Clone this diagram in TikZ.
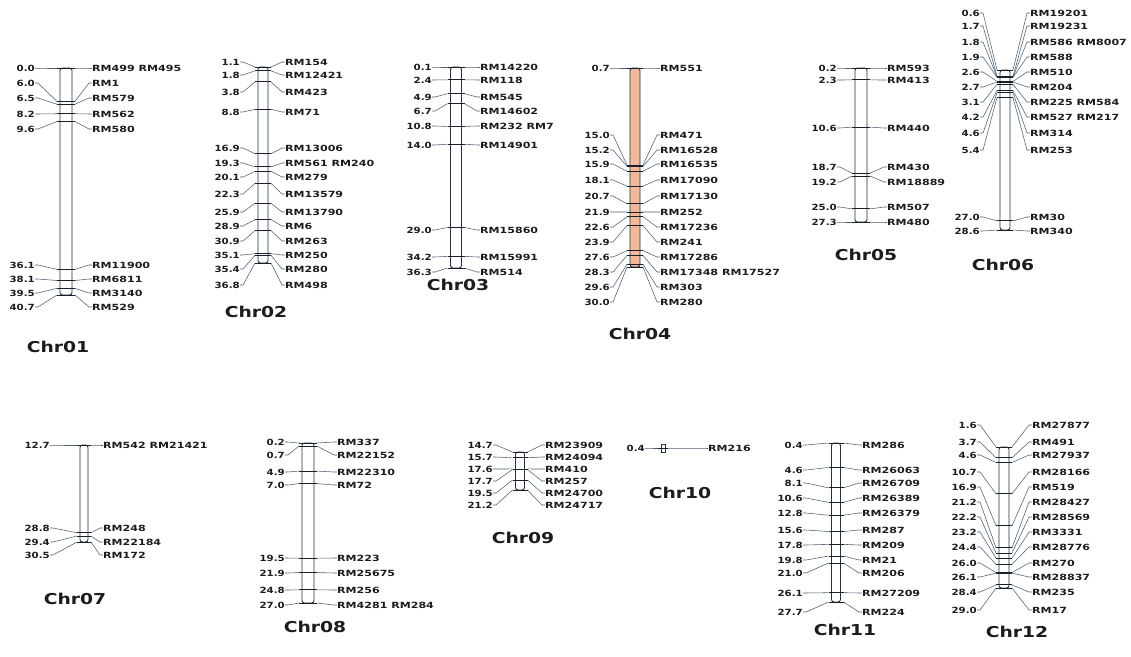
\documentclass[tikz,border=0pt]{standalone}
\usepackage{fontspec}
\setmainfont{DejaVu Sans}
\newfontfamily\numfont[FakeStretch=1.2]{DejaVu Sans Bold}
\newfontfamily\nmfont[FakeStretch=1.3]{DejaVu Sans Bold}
\newfontfamily\ttlfont[FakeStretch=1.25]{DejaVu Sans Bold}
\usetikzlibrary{calc}

\definecolor{barline}{HTML}{26323F}
\definecolor{leadc}{HTML}{4D6075}
\definecolor{tickc}{HTML}{1A2029}
\definecolor{txt}{HTML}{1C1C1C}
\definecolor{peach}{HTML}{F2B89B}

\tikzset{
  bar/.style={draw=barline, line width=0.9pt, rounded corners=2.5pt},
  lead/.style={draw=leadc, line width=0.55pt},
  tick/.style={draw=tickc, line width=0.9pt},
  num/.style={font=\numfont\fontsize{8.5}{9}\selectfont, text=txt, inner sep=0pt},
  nm/.style={font=\nmfont\fontsize{8.5}{9}\selectfont, text=txt, inner sep=0pt},
  ttl/.style={font=\ttlfont\fontsize{15}{16}\selectfont, text=txt, inner sep=0pt}
}

% chromosome settings: centre x, bar width, top y, top cM, bottom y, bottom cM, left gap, right gap
\newcommand\setchr[8]{\def\chX{#1}\def\chW{#2}\def\chYa{#3}\def\chCa{#4}%
  \def\chYb{#5}\def\chCb{#6}\def\chLg{#7}\def\chRg{#8}}
\newcommand\chrbar[1]{\draw[bar,fill=#1] (\chX-\chW/2,\chYa) rectangle (\chX+\chW/2,\chYb);}
\newcounter{mkc}
% marker: position (cM), label row y, marker name(s)
\newcommand\mk[3]{%
  \stepcounter{mkc}%
  \pgfmathsetmacro\chTy{\chYa+(#1-\chCa)*(\chYb-\chYa)/(\chCb-\chCa)}%
  \node[num,anchor=east] (L\themkc) at (\chX-\chLg,#2) {#1};
  \node[nm,anchor=west] (R\themkc) at (\chX+\chRg,#2) {#3};
  \coordinate (TL\themkc) at (\chX-\chW/2-3,\chTy);
  \coordinate (TR\themkc) at (\chX+\chW/2+3,\chTy);
  \draw[lead] (L\themkc.east) -- ++(3,0) -- (TL\themkc);
  \draw[lead] (TR\themkc) -- ($(R\themkc.west)+(-3,0)$) -- (R\themkc.west);
  \draw[tick] (TL\themkc) -- (TR\themkc);
}

\begin{document}
\begin{tikzpicture}[x=1pt,y=-1pt]
\fill[white] (0,0) rectangle (1131,656);
\useasboundingbox (0,0) rectangle (1131,656);

% Chr01
\setchr{66}{12}{68}{0.0}{295}{40.7}{31}{26}
\chrbar{white}
\mk{0.0}{68}{RM499 RM495}
\mk{6.0}{83}{RM1}
\mk{6.5}{98}{RM579}
\mk{8.2}{114}{RM562}
\mk{9.6}{129}{RM580}
\mk{36.1}{265}{RM11900}
\mk{38.1}{279}{RM6811}
\mk{39.5}{293}{RM3140}
\mk{40.7}{307}{RM529}
\node[ttl] (t1) at (58,347) {Chr01};

% Chr02
\setchr{263}{10}{67}{1.1}{263}{36.8}{23}{22}
\chrbar{white}
\mk{1.1}{62}{RM154}
\mk{1.8}{75}{RM12421}
\mk{3.8}{92}{RM423}
\mk{8.8}{112}{RM71}
\mk{16.9}{148}{RM13006}
\mk{19.3}{163}{RM561 RM240}
\mk{20.1}{177}{RM279}
\mk{22.3}{194}{RM13579}
\mk{25.9}{212}{RM13790}
\mk{28.9}{226}{RM6}
\mk{30.9}{241}{RM263}
\mk{35.1}{255}{RM250}
\mk{35.4}{269}{RM280}
\mk{36.8}{285}{RM498}
\node[ttl] (t2) at (256,312) {Chr02};

% Chr03
\setchr{456}{11}{67}{0.1}{268}{36.3}{24}{24}
\chrbar{white}
\mk{0.1}{67}{RM14220}
\mk{2.4}{80}{RM118}
\mk{4.9}{97}{RM545}
\mk{6.7}{111}{RM14602}
\mk{10.8}{126}{RM232 RM7}
\mk{14.0}{145}{RM14901}
\mk{29.0}{230}{RM15860}
\mk{34.2}{257}{RM15991}
\mk{36.3}{272}{RM514}
\node[ttl] (t3) at (458,285) {Chr03};

% Chr04
\setchr{635}{10}{68}{0.7}{267}{30.0}{25}{25}
\chrbar{peach}
\mk{0.7}{68}{RM551}
\mk{15.0}{135}{RM471}
\mk{15.2}{150}{RM16528}
\mk{15.9}{164}{RM16535}
\mk{18.1}{180}{RM17090}
\mk{20.7}{196}{RM17130}
\mk{21.9}{212}{RM252}
\mk{22.6}{227}{RM17236}
\mk{23.9}{242}{RM241}
\mk{27.6}{257}{RM17286}
\mk{28.3}{272}{RM17348 RM17527}
\mk{29.6}{287}{RM303}
\mk{30.0}{302}{RM280}
\node[ttl] (t4) at (640,334) {Chr04};

% Chr05
\setchr{861}{12}{68}{0.2}{222}{27.3}{24}{26}
\chrbar{white}
\mk{0.2}{68}{RM593}
\mk{2.3}{80}{RM413}
\mk{10.6}{128}{RM440}
\mk{18.7}{167}{RM430}
\mk{19.2}{182}{RM18889}
\mk{25.0}{207}{RM507}
\mk{27.3}{222}{RM480}
\node[ttl] (t5) at (866,255) {Chr05};

% Chr06
\setchr{1005}{10}{70}{0.6}{230}{28.6}{25}{25}
\chrbar{white}
\mk{0.6}{13}{RM19201}
\mk{1.7}{26}{RM19231}
\mk{1.8}{42}{RM586 RM8007}
\mk{1.9}{57}{RM588}
\mk{2.6}{72}{RM510}
\mk{2.7}{87}{RM204}
\mk{3.1}{102}{RM225 RM584}
\mk{4.2}{117}{RM527 RM217}
\mk{4.6}{133}{RM314}
\mk{5.4}{150}{RM253}
\mk{27.0}{217}{RM30}
\mk{28.6}{231}{RM340}
\node[ttl] (t6) at (1003,265) {Chr06};

% Chr07
\setchr{84}{8}{445}{12.7}{542}{30.5}{34}{19}
\chrbar{white}
\mk{12.7}{445}{RM542 RM21421}
\mk{28.8}{528}{RM248}
\mk{29.4}{542}{RM22184}
\mk{30.5}{555}{RM172}
\node[ttl] (t7) at (75,599) {Chr07};

% Chr08
\setchr{308}{12}{443}{0.2}{603}{27.0}{23}{29}
\chrbar{white}
\mk{0.2}{442}{RM337}
\mk{0.7}{455}{RM22152}
\mk{4.9}{472}{RM22310}
\mk{7.0}{485}{RM72}
\mk{19.5}{558}{RM223}
\mk{21.9}{573}{RM25675}
\mk{24.8}{590}{RM256}
\mk{27.0}{605}{RM4281 RM284}
\node[ttl] (t8) at (315,627) {Chr08};

% Chr09
\setchr{520}{9}{452}{14.7}{490}{21.2}{27}{25}
\chrbar{white}
\mk{14.7}{445}{RM23909}
\mk{15.7}{457}{RM24094}
\mk{17.6}{469}{RM410}
\mk{17.7}{481}{RM257}
\mk{19.5}{493}{RM24700}
\mk{21.2}{505}{RM24717}
\node[ttl] (t9) at (523,538) {Chr09};

% Chr10: a single marker, drawn as a short stub
\setchr{663}{4}{444}{-0.2}{452}{1.0}{18}{45}
\draw[bar,rounded corners=0pt,fill=white] (\chX-\chW/2,\chYa) rectangle (\chX+\chW/2,\chYb);
\mk{0.4}{448}{RM216}
\node[ttl] (t10) at (680,493) {Chr10};

% Chr11
\setchr{836}{9}{443}{0.4}{602}{27.7}{33}{26}
\chrbar{white}
\mk{0.4}{445}{RM286}
\mk{4.6}{470}{RM26063}
\mk{8.1}{483}{RM26709}
\mk{10.6}{498}{RM26389}
\mk{12.8}{513}{RM26379}
\mk{15.6}{530}{RM287}
\mk{17.8}{545}{RM209}
\mk{19.8}{560}{RM21}
\mk{21.0}{573}{RM206}
\mk{26.1}{593}{RM27209}
\mk{27.7}{612}{RM224}
\node[ttl] (t11) at (845,630) {Chr11};

% Chr12
\setchr{1004}{10}{447}{1.6}{588}{29.0}{27}{28}
\chrbar{white}
\mk{1.6}{425}{RM27877}
\mk{3.7}{442}{RM491}
\mk{4.6}{455}{RM27937}
\mk{10.7}{472}{RM28166}
\mk{16.9}{487}{RM519}
\mk{21.2}{502}{RM28427}
\mk{22.2}{517}{RM28569}
\mk{23.2}{532}{RM3331}
\mk{24.4}{547}{RM28776}
\mk{26.0}{563}{RM270}
\mk{26.1}{577}{RM28837}
\mk{28.4}{592}{RM235}
\mk{29.0}{610}{RM17}
\node[ttl] (t12) at (1017,632) {Chr12};
\end{tikzpicture}
\end{document}
